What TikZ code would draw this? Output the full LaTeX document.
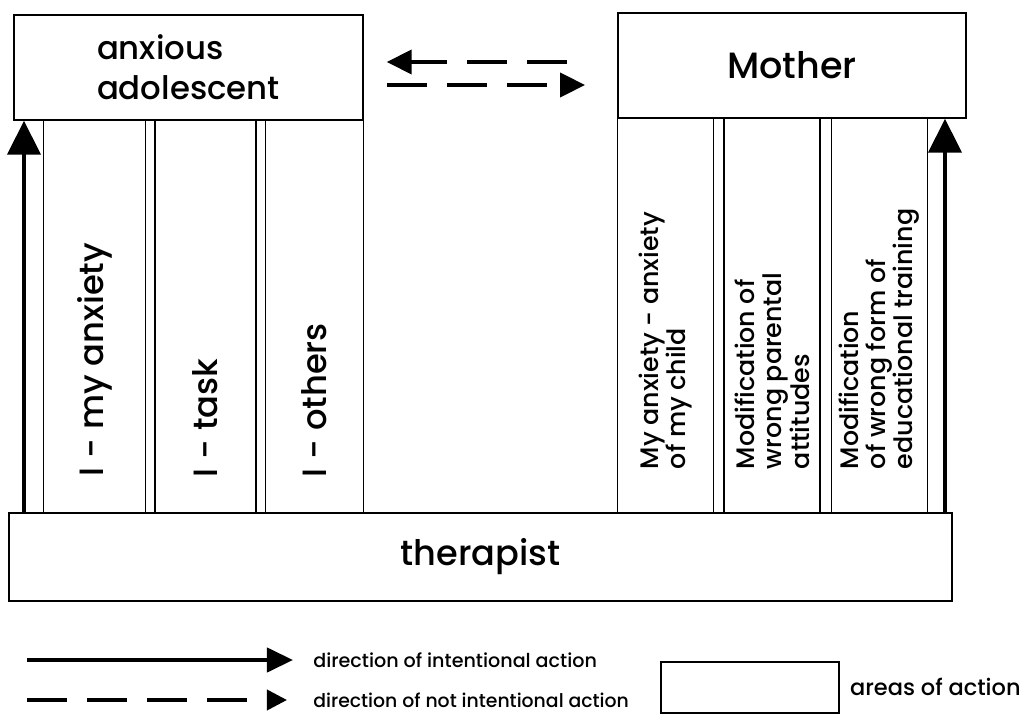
\documentclass[tikz,border=0pt]{standalone}
\usepackage{fontspec}
\setmainfont{Poppins}[UprightFont={* Medium}]
\usetikzlibrary{arrows.meta, positioning}

\begin{document}
\begin{tikzpicture}[
    x=0.025cm, y=-0.025cm,
    area/.style={rectangle, draw, line width=1.2pt, inner sep=0pt, anchor=north west},
    strip/.style={rectangle, draw, line width=0.9pt, inner sep=0pt, anchor=north west},
    vtext/.style={rotate=90, anchor=west, inner sep=0pt, align=left},
    intent/.style={-{Triangle[length=0.85cm, width=0.82cm]}, line width=3.5pt},
    unintent/.style={-{Triangle[length=0.62cm, width=0.6cm]}, line width=2.6pt, dash pattern=on 1cm off 0.5cm}
  ]
  \useasboundingbox (0,0) rectangle (1025,715);

  % Persons
  \node[area, minimum width=8.725cm, minimum height=2.625cm, align=left, font=\fontsize{23}{28}\selectfont] (adol) at (13,14) {anxious\\adolescent};
  \node[area, minimum width=8.7cm, minimum height=2.625cm, font=\fontsize{26}{30}\selectfont] (mother) at (617,12) {Mother};
  \node[area, minimum width=23.575cm, minimum height=2.2cm, font=\fontsize{25}{30}\selectfont] (ther) at (8,512) {therapist};

  % Areas of the adolescent
  \node[strip, minimum width=2.55cm, minimum height=9.825cm] (a1) at (43,119) {};
  \node[strip, minimum width=2.525cm, minimum height=9.825cm, right=0.2cm of a1] (a2) {};
  \node[strip, minimum width=2.45cm, minimum height=9.825cm, right=0.2cm of a2] (a3) {};

  % Areas of the mother
  \node[strip, minimum width=2.4cm, minimum height=9.875cm] (m1) at (617,117) {};
  \node[strip, minimum width=2.4cm, minimum height=9.875cm, right=0.225cm of m1] (m2) {};
  \node[strip, minimum width=2.4cm, minimum height=9.875cm, right=0.25cm of m2] (m3) {};

  % Labels of the areas
  \node[vtext, font=\fontsize{24}{28}\selectfont] (l1) at ([yshift=0.925cm]a1.south) {I - my anxiety};
  \node[vtext, font=\fontsize{24}{28}\selectfont] (l2) at ([yshift=0.9cm]a2.south) {I - task};
  \node[vtext, font=\fontsize{24}{28}\selectfont] (l3) at ([yshift=0.9cm]a3.south) {I - others};
  \node[vtext, font=\fontsize{18}{19.5}\selectfont] (n1) at ([yshift=1.1cm]m1.south) {My anxiety - anxiety\\of my child};
  \node[vtext, font=\fontsize{18}{19.5}\selectfont] (n2) at ([yshift=1.1cm]m2.south) {Modification of\\wrong parental\\attitudes};
  \node[vtext, font=\fontsize{18}{19.5}\selectfont] (n3) at ([yshift=1.1cm]m3.south) {Modification\\of wrong form of\\educational training};

  % Arrows
  \coordinate (la) at (24,0);
  \coordinate (ra) at (945,0);
  \coordinate (up) at (0,62);
  \coordinate (lo) at (0,85);
  \draw[intent] (ther.north -| la) -- (adol.south -| la);
  \draw[intent] (ther.north -| ra) -- (mother.south -| ra);
  \draw[unintent, shorten <=1.25cm, shorten >=0.575cm] (mother.west |- up) -- (adol.east |- up);
  \draw[unintent, shorten <=0.575cm, shorten >=0.8cm] (adol.east |- lo) -- (mother.west |- lo);

  % Legend
  \coordinate (k1) at (27,660);
  \coordinate (k2) at (27,700);
  \node[anchor=west, inner sep=0pt, font=\fontsize{13.6}{15}\selectfont] (lt1) at (313,660) {direction of intentional action};
  \node[anchor=west, inner sep=0pt, font=\fontsize{13.4}{15}\selectfont] (lt2) at (313,700) {direction of not intentional action};
  \draw[intent, -{Triangle[length=0.65cm, width=0.6cm]}, line width=3pt, shorten >=0.5cm] (k1) -- (lt1);
  \draw[unintent, -{Triangle[length=0.5cm, width=0.5cm]}, shorten >=0.65cm] (k2) -- (lt2);
  \node[area, minimum width=4.45cm, minimum height=1.275cm] (lbox) at (660,661) {};
  \node[right=0.25cm of lbox, inner sep=0pt, font=\fontsize{16}{18}\selectfont] (lt3) {areas of action};
\end{tikzpicture}
\end{document}
